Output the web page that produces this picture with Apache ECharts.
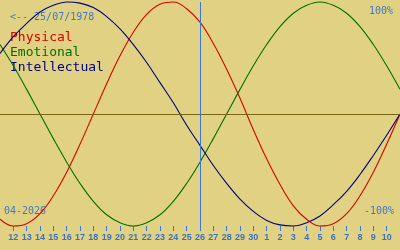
<!DOCTYPE html>
<html>
<head>
<meta charset="utf-8">
<script src="https://cdn.jsdelivr.net/npm/echarts@6/dist/echarts.min.js"></script>
<style>
html,body{margin:0;padding:0;background:#e0d282;}
#c{width:400px;height:250px;}
</style>
</head>
<body>
<div id="c"></div>
<script>
// Days shown: 11 April 2026 .. 11 May 2026
const days = ['11','12','13','14','15','16','17','18','19','20','21','22','23','24','25','26','27','28','29','30','1','2','3','4','5','6','7','8','9','10','11'];
const physical = [-0.94,-1.00,-0.98,-0.89,-0.73,-0.52,-0.27,0,0.27,0.52,0.73,0.89,0.98,1.00,0.94,0.82,0.63,0.40,0.14,-0.14,-0.40,-0.63,-0.82,-0.94,-1.00,-0.98,-0.89,-0.73,-0.52,-0.27,0];
const emotional = [0.62,0.43,0.22,0,-0.22,-0.43,-0.62,-0.78,-0.90,-0.97,-1.00,-0.97,-0.90,-0.78,-0.62,-0.43,-0.22,0,0.22,0.43,0.62,0.78,0.90,0.97,1.00,0.97,0.90,0.78,0.62,0.43,0.22];
const intellectual = [0.54,0.69,0.81,0.91,0.97,1.00,0.99,0.95,0.87,0.76,0.62,0.46,0.28,0.10,-0.10,-0.28,-0.46,-0.62,-0.76,-0.87,-0.95,-0.99,-1.00,-0.97,-0.91,-0.81,-0.69,-0.54,-0.37,-0.19,0];
const today = '26';
const birthText = '<-- 25/07/1978';
const monthText = '04-2026';
const names = ['Physical','Emotional','Intellectual'];
const topText = '100%';
const bottomText = '-100%';

const mono = "'DejaVu Sans Mono', monospace";
const blueText = '#3f78c8';
const chart = echarts.init(document.getElementById('c'), null, {renderer:'canvas'});
const lastIdx = days.length - 1;
chart.setOption({
  backgroundColor: '#e0d282',
  animation: false,
  grid: {left: 0, right: 0, top: 2, bottom: 24},
  xAxis: {
    type: 'category', data: days, boundaryGap: false,
    axisLine: {show: false, onZero: false},
    axisTick: {show: true, length: 5, alignWithLabel: true,
      interval: function(i){ return i > 0 && i < lastIdx; },
      lineStyle: {color: '#3a78d0', width: 1}},
    axisLabel: {show: true, margin: 7, color: '#3a70c4', fontSize: 9, fontWeight: 'bold',
      fontFamily: "'Liberation Sans', Arial, sans-serif",
      interval: function(i){ return i > 0 && i < lastIdx; }},
    splitLine: {show: false}
  },
  yAxis: {
    type: 'value', min: -1, max: 1,
    axisLine: {show: false}, axisTick: {show: false}, axisLabel: {show: false}, splitLine: {show: false}
  },
  series: [
    {name: names[0], type: 'line', data: physical, smooth: 0.4, showSymbol: false, clip: false,
     lineStyle: {color: '#d80000', width: 1.1}, itemStyle: {color: '#d80000'},
     markLine: {silent: true, symbol: 'none', label: {show: false},
       data: [
         {yAxis: 0, lineStyle: {color: '#7a6612', width: 1, type: 'solid'}},
         {xAxis: today, lineStyle: {color: '#3a78d8', width: 1, type: 'solid'}}
       ]}},
    {name: names[1], type: 'line', data: emotional, smooth: 0.4, showSymbol: false, clip: false,
     lineStyle: {color: '#007000', width: 1.1}, itemStyle: {color: '#007000'}},
    {name: names[2], type: 'line', data: intellectual, smooth: 0.4, showSymbol: false, clip: false,
     lineStyle: {color: '#00007f', width: 1.1}, itemStyle: {color: '#00007f'}}
  ],
  graphic: [
    {type: 'text', left: 10, top: 12, style: {text: birthText, fill: blueText, font: "10px " + mono}},
    {type: 'text', left: 10, top: 31, style: {text: names[0], fill: '#d80000', font: "13px " + mono}},
    {type: 'text', left: 10, top: 46, style: {text: names[1], fill: '#007000', font: "13px " + mono}},
    {type: 'text', left: 10, top: 61, style: {text: names[2], fill: '#00007f', font: "13px " + mono}},
    {type: 'text', right: 7, top: 6, style: {text: topText, fill: blueText, font: "10px " + mono}},
    {type: 'text', right: 6, top: 206, style: {text: bottomText, fill: blueText, font: "10px " + mono}},
    {type: 'text', left: 4, top: 206, style: {text: monthText, fill: blueText, font: "10px " + mono}}
  ]
});
</script>
</body>
</html>
